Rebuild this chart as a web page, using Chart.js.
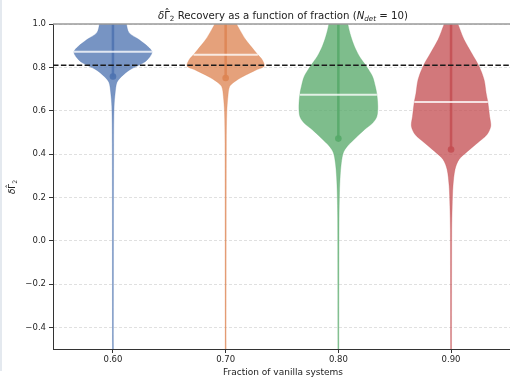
<!DOCTYPE html>
<html>
<head>
<meta charset="utf-8">
<script src="https://cdn.jsdelivr.net/npm/chart.js@4.4.0/dist/chart.umd.min.js"></script>
<style>
  html, body { margin: 0; padding: 0; background: #fff; }
  canvas { display: block; }
</style>
</head>
<body>
<canvas id="chart" width="510" height="377"></canvas>
<script>
// Fraction of vanilla systems on the x axis
const fractions = [0.60, 0.70, 0.80, 0.90];
const fractionLabels = ['0.60', '0.70', '0.80', '0.90'];
const violinColors = ['#4C72B0', '#DD8452', '#55A868', '#C44E52'];

// summary statistics per fraction
const medianRecovery = [0.872, 0.858, 0.674, 0.640];
const meanRecovery = [0.758, 0.751, 0.471, 0.421];
const targetRecovery = 0.81;

// y tick values and labels
const yTickValues = [-0.4, -0.2, 0.0, 0.2, 0.4, 0.6, 0.8, 1.0];
const yTickLabels = ['\u22120.4', '\u22120.2', '0.0', '0.2', '0.4', '0.6', '0.8', '1.0'];

// axis limits
const X_MIN = 0.5468, X_MAX = 0.9523;
const Y_MIN = -0.5, Y_MAX = 1.0;

// kernel density outlines: recovery levels (top to bottom) and half-widths in x units
const levels060 = [1.03, 1.00, 0.960, 0.928, 0.895, 0.872, 0.849, 0.822, 0.789, 0.757, 0.730, 0.684, 0.619, 0.45, -0.55];
const widths060 = [0.0118, 0.0120, 0.0142, 0.0231, 0.0311, 0.0346, 0.0328, 0.0275, 0.0151, 0.0075, 0.0035, 0.0020, 0.0010, 0.0006, 0.0004];

const levels070 = [1.03, 1.00, 0.974, 0.928, 0.882, 0.859, 0.835, 0.805, 0.789, 0.757, 0.734, 0.711, 0.665, 0.592, 0.45, -0.55];
const widths070 = [0.0094, 0.0098, 0.0124, 0.0177, 0.0248, 0.0284, 0.0324, 0.0342, 0.0275, 0.0151, 0.0080, 0.0035, 0.0020, 0.0010, 0.0006, 0.0004];

const levels080 = [1.03, 1.00, 0.943, 0.897, 0.851, 0.805, 0.759, 0.712, 0.674, 0.620, 0.574, 0.544, 0.512, 0.475, 0.436, 0.406, 0.359, 0.298, 0.223, 0.10, -0.55];
const widths080 = [0.0082, 0.0084, 0.0111, 0.0142, 0.0186, 0.0248, 0.0302, 0.0328, 0.0342, 0.0350, 0.0342, 0.0306, 0.0231, 0.0155, 0.0080, 0.0044, 0.0026, 0.0016, 0.0010, 0.0006, 0.0004];

const levels090 = [1.03, 1.00, 0.974, 0.928, 0.866, 0.805, 0.743, 0.682, 0.641, 0.574, 0.528, 0.490, 0.452, 0.413, 0.375, 0.329, 0.252, 0.159, 0.05, -0.55];
const widths090 = [0.0058, 0.0062, 0.0080, 0.0115, 0.0182, 0.0248, 0.0293, 0.0311, 0.0326, 0.0342, 0.0352, 0.0319, 0.0237, 0.0148, 0.0071, 0.0035, 0.0017, 0.0010, 0.0006, 0.0004];

const violinLevels = [levels060, levels070, levels080, levels090];
const violinWidths = [widths060, widths070, widths080, widths090];

function rgba(hex, a) {
  const n = parseInt(hex.slice(1), 16);
  return `rgba(${(n >> 16) & 255},${(n >> 8) & 255},${n & 255},${a})`;
}

// closed outline: right edge bottom->top, then left edge top->bottom
function violinOutline(center, levels, widths) {
  const pts = [];
  for (let i = levels.length - 1; i >= 0; i--) pts.push({ x: center + widths[i], y: levels[i] });
  for (let i = 0; i < levels.length; i++) pts.push({ x: center - widths[i], y: levels[i] });
  return pts;
}

function widthAt(levels, widths, v) {
  for (let i = 0; i < levels.length - 1; i++) {
    const a = levels[i], b = levels[i + 1];
    if (v <= a && v >= b) {
      const t = (a - v) / (a - b);
      return widths[i] + t * (widths[i + 1] - widths[i]);
    }
  }
  return 0;
}

const datasets = [];

// reference recovery level
datasets.push({
  data: [{ x: X_MIN, y: targetRecovery }, { x: X_MAX, y: targetRecovery }],
  borderColor: '#1a1a1a', borderWidth: 1.5, borderDash: [5.5, 2.4],
  pointRadius: 0, fill: false, order: 0, clip: 0
});

fractions.forEach((f, i) => {
  const col = violinColors[i];
  const lv = violinLevels[i], wd = violinWidths[i];
  const hw = widthAt(lv, wd, medianRecovery[i]);
  // median bar
  datasets.push({
    data: [{ x: f - hw, y: medianRecovery[i] }, { x: f + hw, y: medianRecovery[i] }],
    borderColor: 'rgba(255,255,255,0.78)', borderWidth: 2,
    pointRadius: 0, fill: false, order: 1, clip: 0
  });
  // mean marker
  datasets.push({
    data: [{ x: f, y: meanRecovery[i] }],
    showLine: false, pointRadius: 3.3, pointBorderWidth: 0,
    pointBackgroundColor: rgba(col, 0.9), order: 2, clip: 0
  });
  // stem from the top down to the mean
  datasets.push({
    data: [{ x: f, y: 1.03 }, { x: f, y: meanRecovery[i] }],
    borderColor: rgba(col, 0.85), borderWidth: 2.5,
    pointRadius: 0, fill: false, order: 3, clip: 0
  });
  // violin body
  datasets.push({
    data: violinOutline(f, lv, wd),
    borderColor: rgba(col, 0.6), borderWidth: 0.5,
    backgroundColor: rgba(col, 0.76),
    fill: 'shape', tension: 0.3,
    pointRadius: 0, order: 4, clip: 0
  });
});

const FONT = '"DejaVu Sans", sans-serif';
function fontOf(p) { return `${p.italic ? 'italic ' : ''}${p.size}px ${FONT}`; }
// parts flagged "over" are accents centred over the previous part
function drawRich(ctx, parts, x, y) {
  let total = 0;
  parts.forEach(p => { ctx.font = fontOf(p); p.w = ctx.measureText(p.text).width; if (!p.over) total += p.w; });
  let cx = x - total / 2;
  let prev = null;
  parts.forEach(p => {
    ctx.font = fontOf(p);
    if (p.over && prev) {
      ctx.fillText(p.text, prev.x + (prev.w - p.w) / 2, y + (p.dy || 0));
    } else {
      ctx.fillText(p.text, cx, y + (p.dy || 0));
      prev = { x: cx, w: p.w };
      cx += p.w;
    }
  });
}

const titleParts = [
  { text: '\u03b4', size: 10.2, italic: true },
  { text: '\u0393', size: 10.2 },
  { text: '\u02c6', size: 10.2, over: true, dy: -2.5 },
  { text: '2', size: 7.2, dy: 2.4 },
  { text: ' Recovery as a function of fraction (', size: 10.2 },
  { text: 'N', size: 10.2, italic: true },
  { text: 'det', size: 7.2, italic: true, dy: 2.4 },
  { text: ' = 10)', size: 10.2 }
];
const yLabelParts = [
  { text: '\u03b4', size: 8.8, italic: true },
  { text: '\u0393', size: 8.8 },
  { text: '\u02c6', size: 8.8, over: true, dy: -2.2 },
  { text: '2', size: 6.2, dy: 2.0 }
];
const xLabelText = 'Fraction of vanilla systems';

const decorations = {
  id: 'decorations',
  beforeDraw(chart) {
    const ctx = chart.ctx;
    ctx.save();
    ctx.fillStyle = '#ffffff';
    ctx.fillRect(0, 0, chart.width, chart.height);
    ctx.fillStyle = '#e4e9ef';
    ctx.fillRect(0, 0, 2, 371);
    ctx.restore();
  },
  afterDraw(chart) {
    const ctx = chart.ctx, a = chart.chartArea;
    ctx.save();
    // top spine
    ctx.strokeStyle = '#9a9a9a';
    ctx.lineWidth = 1.6;
    ctx.beginPath();
    ctx.moveTo(a.left, a.top);
    ctx.lineTo(a.right, a.top);
    ctx.stroke();
    ctx.fillStyle = '#222';
    ctx.textBaseline = 'alphabetic';
    drawRich(ctx, titleParts, 283, 19);
    ctx.font = `9px ${FONT}`;
    ctx.textAlign = 'center';
    ctx.fillText(xLabelText, 283, 375);
    ctx.textAlign = 'left';
    ctx.translate(15, 187);
    ctx.rotate(-Math.PI / 2);
    drawRich(ctx, yLabelParts, 0, 0);
    ctx.restore();
  }
};

new Chart(document.getElementById('chart'), {
  type: 'line',
  data: { datasets },
  options: {
    responsive: false,
    animation: false,
    devicePixelRatio: 1,
    layout: { padding: { top: 24, right: 0, left: 0, bottom: 0 }, autoPadding: false },
    plugins: { legend: { display: false }, tooltip: { enabled: false }, title: { display: false } },
    elements: { line: { tension: 0 } },
    scales: {
      x: {
        type: 'linear', min: X_MIN, max: X_MAX,
        afterBuildTicks: s => { s.ticks = fractions.map(v => ({ value: v })); },
        afterFit: s => { s.height = 28; },
        ticks: {
          autoSkip: false, maxRotation: 0, padding: 2, color: '#262626',
          font: { family: 'DejaVu Sans', size: 8.5 },
          callback: v => fractionLabels[fractions.findIndex(f => Math.abs(f - v) < 1e-9)]
        },
        grid: { drawOnChartArea: false, drawTicks: true, tickLength: 4, tickColor: '#333', color: '#333' },
        border: { display: true, color: '#333', width: 1 }
      },
      y: {
        type: 'linear', min: Y_MIN, max: Y_MAX,
        afterBuildTicks: s => { s.ticks = yTickValues.map(v => ({ value: v })); },
        afterFit: s => { s.width = 53; },
        ticks: {
          autoSkip: false, padding: 3, color: '#262626',
          font: { family: 'DejaVu Sans', size: 8.5 },
          callback: v => yTickLabels[yTickValues.findIndex(t => Math.abs(t - v) < 1e-9)]
        },
        grid: { drawOnChartArea: true, drawTicks: true, tickLength: 4, tickColor: '#333', color: '#e0e0e0', lineWidth: 1 },
        border: { display: true, color: '#333', width: 1, dash: [3, 2] }
      }
    }
  },
  plugins: [decorations]
});
</script>
</body>
</html>
